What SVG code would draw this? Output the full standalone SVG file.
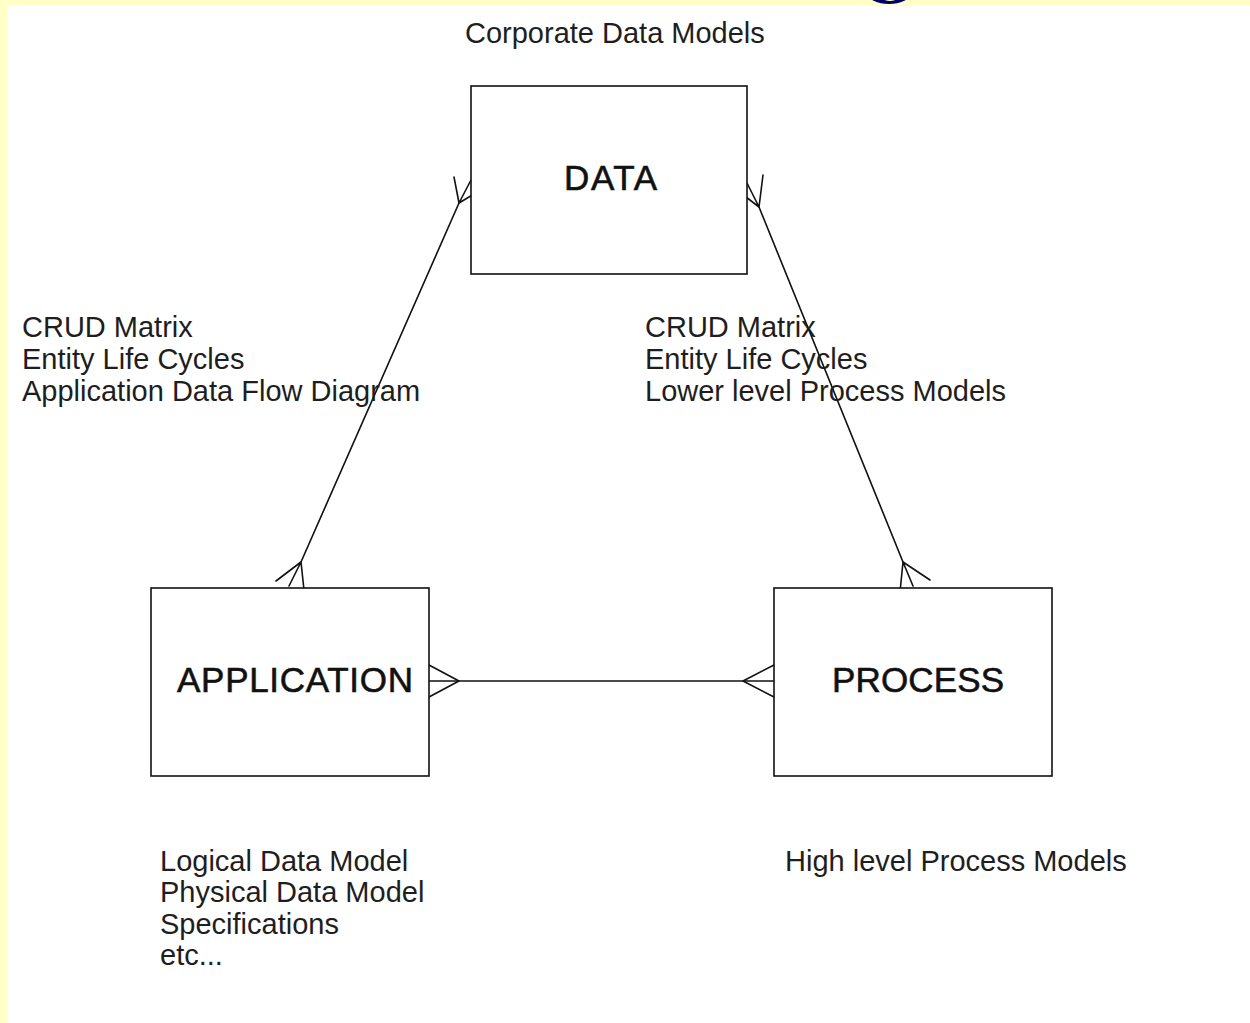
<svg xmlns="http://www.w3.org/2000/svg" width="1250" height="1023" viewBox="0 0 1250 1023">
  <style>
    .box { fill: #ffffff; stroke: #111111; stroke-width: 1.6; }
    .wire { fill: none; stroke: #111111; stroke-width: 1.6; stroke-linecap: round; stroke-linejoin: round; }
    .note { font-family: "Liberation Sans", Arial, sans-serif; font-size: 29px; fill: #1e1e1e; }
    .label { font-family: "Liberation Sans", Arial, sans-serif; font-size: 35px; fill: #111111; stroke: #111111; stroke-width: 0.6; }
  </style>

  <!-- page background with pale frame strips -->
  <rect x="0" y="0" width="1250" height="1023" fill="#ffffff"/>
  <rect x="0" y="0" width="1250" height="5.5" fill="#ffffc6"/>
  <rect x="0" y="0" width="7" height="1023" fill="#ffffc6"/>
  <!-- navy ring peeking in at the top edge -->
  <path d="M868,-6 A21,10 0 0 0 910,-6 L910,-20 L868,-20 Z M880,-6 A10,7 0 0 0 900,-6 L900,-20 L880,-20 Z" fill="#000066" fill-rule="evenodd"/>

  <text class="note" x="465" y="43">Corporate Data Models</text>

  <!-- connectors with crow's-foot ends -->
  <g id="connectors">
    <!-- APPLICATION to DATA -->
    <path class="wire" d="M301,562 L459,203"/>
    <path class="wire" d="M459,203 L454,177 M459,203 L471,180 M459,203 L484,188"/>
    <path class="wire" d="M301,562 L276,581 M301,562 L289,586 M301,562 L304,590"/>
    <!-- DATA to PROCESS -->
    <path class="wire" d="M759,207 L903,562"/>
    <path class="wire" d="M759,207 L763,175 M759,207 L747,183 M759,207 L733,187"/>
    <path class="wire" d="M903,562 L930,580 M903,562 L913,586 M903,562 L900,592"/>
    <!-- APPLICATION to PROCESS -->
    <path class="wire" d="M429,681 L774,681"/>
    <path class="wire" d="M459,681 L429,665 M459,681 L429,697"/>
    <path class="wire" d="M743,681 L774,665 M743,681 L774,697"/>
  </g>

  <g id="node-data">
    <rect class="box" x="471" y="86" width="276" height="188"/>
    <text class="label" x="564" y="190" textLength="93" lengthAdjust="spacing">DATA</text>
  </g>

  <g id="node-application">
    <rect class="box" x="151" y="588" width="278" height="188"/>
    <text class="label" x="177" y="692" textLength="236" lengthAdjust="spacing">APPLICATION</text>
  </g>

  <g id="node-process">
    <rect class="box" x="774" y="588" width="278" height="188"/>
    <text class="label" x="832" y="692" textLength="172" lengthAdjust="spacing">PROCESS</text>
  </g>

  <g id="notes-app-data">
    <text class="note" x="22" y="337">CRUD Matrix</text>
    <text class="note" x="22" y="369">Entity Life Cycles</text>
    <text class="note" x="22" y="401">Application Data Flow Diagram</text>
  </g>

  <g id="notes-data-process">
    <text class="note" x="645" y="337">CRUD Matrix</text>
    <text class="note" x="645" y="369">Entity Life Cycles</text>
    <text class="note" x="645" y="401">Lower level Process Models</text>
  </g>

  <g id="notes-application">
    <text class="note" x="160" y="871">Logical Data Model</text>
    <text class="note" x="160" y="902">Physical Data Model</text>
    <text class="note" x="160" y="934">Specifications</text>
    <text class="note" x="160" y="965">etc...</text>
  </g>

  <g id="notes-process">
    <text class="note" x="785" y="871">High level Process Models</text>
  </g>
</svg>
